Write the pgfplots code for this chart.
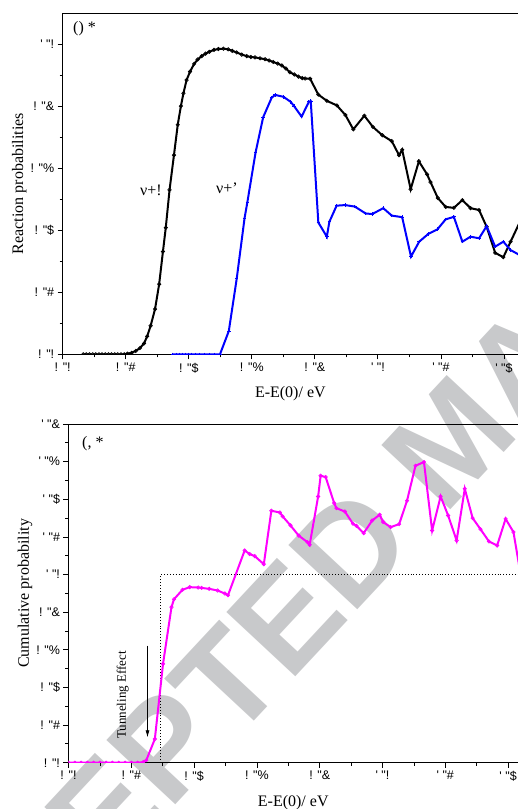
\documentclass[border=0pt]{standalone}
\usepackage{fontspec}
\setmainfont{Liberation Serif}
\newfontfamily\tickfont{Liberation Sans}
\usepackage{pgfplots}
\pgfplotsset{compat=1.18}
\usetikzlibrary{arrows.meta}
\definecolor{wm}{RGB}{200,201,203}
\definecolor{myblue}{RGB}{0,0,255}
\definecolor{mymag}{RGB}{255,0,255}
\pgfplotsset{
  mystyle/.style={
    scale only axis, anchor=south west,
    axis lines*=left, tick align=outside,
    axis line style={line width=0.8pt},
    major tick length=5pt, minor tick length=3pt,
    every tick/.style={black, line width=0.8pt},
    minor x tick num=1, minor y tick num=1,
    xtick={0,0.2,0.4,0.6,0.8,1.0,1.2,1.4},
    xticklabels={! "!, ! "\#, ! "\$, ! "\%, ! "\&, ' "!, ' "\#, ' "\$},
    tick label style={font=\tickfont\fontsize{12.5}{13}\selectfont},
    label style={font=\fontsize{16}{18}\selectfont},
    xlabel style={yshift=-7pt},
    ylabel style={yshift=-3pt},
    clip marker paths=true,
  }
}
\begin{document}
\begin{tikzpicture}
\path[use as bounding box] (0,0) rectangle (518pt,-809pt);
\node[rotate=47, text=wm, font=\tickfont\bfseries\fontsize{137}{137}\selectfont, inner sep=0pt] at (452pt,-440pt) {ACCEPTED MANUSCRIPT};

\begin{axis}[mystyle,
  at={(62.7pt,-354.3pt)}, width=455.3pt, height=341.3pt,
  xmin=0, xmax=1.4445, ymin=0, ymax=1.1,
  ytick={0,0.2,0.4,0.6,0.8,1.0},
  yticklabels={! "!, ! "\#, ! "\$, ! "\%, ! "\&, ' "!},
  xlabel={E-E(0)/ eV}, ylabel={Reaction probabilities},
]
\draw[line width=0.8pt] (rel axis cs:0,1) -- (rel axis cs:1,1);
\addplot[black, line width=2pt, mark=o, mark size=1.7pt, mark options={solid, fill=white, line width=0.7pt}] coordinates {
(0.065,0) (0.075,0) (0.085,0) (0.095,0) (0.105,0) (0.115,0) (0.125,0) (0.135,0) (0.145,0) (0.155,0) (0.165,0) (0.175,0) (0.185,0) (0.195,0) (0.205,0.002)
(0.219,0.005) (0.232,0.011) (0.245,0.020) (0.258,0.035) (0.268,0.058) (0.279,0.092) (0.293,0.146) (0.306,0.226) (0.318,0.331) (0.327,0.408) (0.339,0.530) (0.353,0.642) (0.365,0.740) (0.375,0.800) (0.383,0.841) (0.393,0.884) (0.404,0.911) (0.417,0.936) (0.428,0.950) (0.441,0.961) (0.453,0.969) (0.465,0.975) (0.480,0.981) (0.494,0.984) (0.510,0.985) (0.525,0.983) (0.538,0.978) (0.552,0.973) (0.568,0.966) (0.584,0.961) (0.597,0.958) (0.610,0.957) (0.626,0.954) (0.642,0.951) (0.655,0.947) (0.668,0.942) (0.682,0.937) (0.695,0.931) (0.708,0.921) (0.721,0.909) (0.735,0.902) (0.748,0.895) (0.760,0.890) (0.769,0.889) (0.785,0.888) (0.811,0.837) (0.838,0.817) (0.870,0.802) (0.897,0.771) (0.922,0.725) (0.957,0.769) (0.984,0.733) (1.014,0.706) (1.044,0.687) (1.067,0.642) (1.077,0.659) (1.104,0.532) (1.130,0.622) (1.156,0.580) (1.167,0.555) (1.190,0.504) (1.215,0.475) (1.241,0.472) (1.268,0.497) (1.294,0.471) (1.321,0.465) (1.345,0.411) (1.372,0.327) (1.398,0.313) (1.421,0.363) (1.446,0.417) (1.470,0.470)
};
\addplot[myblue, line width=2pt, mark=+, mark size=1.8pt, mark options={solid, line width=0.9pt}] coordinates {
(0.349,0) (0.360,0) (0.370,0) (0.380,0) (0.390,0) (0.400,0) (0.410,0) (0.420,0) (0.435,0) (0.450,0) (0.465,0) (0.480,0) (0.499,0)
(0.527,0.075) (0.552,0.243) (0.577,0.439) (0.586,0.491) (0.612,0.651) (0.636,0.764) (0.663,0.827) (0.674,0.836) (0.700,0.830) (0.723,0.814) (0.734,0.800) (0.758,0.766) (0.781,0.814) (0.787,0.816) (0.811,0.425) (0.838,0.379) (0.846,0.427) (0.869,0.479) (0.896,0.481) (0.927,0.476) (0.961,0.454) (0.982,0.452) (1.017,0.471) (1.044,0.447) (1.077,0.442) (1.105,0.315) (1.131,0.363) (1.160,0.388) (1.189,0.403) (1.215,0.435) (1.241,0.443) (1.268,0.363) (1.294,0.379) (1.321,0.374) (1.345,0.413) (1.372,0.347) (1.398,0.363) (1.421,0.336) (1.446,0.322)
};
\node[font=\fontsize{16}{17}\selectfont] at (axis cs:0.280,0.529) {ν+!};
\node[font=\fontsize{16}{17}\selectfont] at (axis cs:0.521,0.536) {ν+'};
\node[anchor=west, font=\fontsize{16}{17}\selectfont, inner sep=0pt] at (rel axis cs:0.0226,0.955) {() *};
\end{axis}

\begin{axis}[mystyle,
  at={(68.5pt,-762.7pt)}, width=449.5pt, height=338.7pt,
  xmin=0, xmax=1.4315, ymin=0, ymax=1.8,
  ytick={0,0.2,0.4,0.6,0.8,1.0,1.2,1.4,1.6,1.8},
  yticklabels={! "!, ! "\#, ! "\$, ! "\%, ! "\&, ' "!, ' "\#, ' "\$, ' "\%, ' "\&},
  xlabel={E-E(0)/ eV}, ylabel={Cumulative probability},
]
\draw[line width=0.8pt] (rel axis cs:0,1) -- (rel axis cs:1,1);
\addplot[black, dotted, line width=0.9pt] coordinates {(0.294,0) (0.294,1.0) (1.5,1.0)};
\addplot[mymag, line width=2pt, mark=o, mark size=1.7pt, mark options={solid, fill=white, line width=0.7pt}] coordinates {
(0,0) (0.02,0) (0.04,0) (0.06,0) (0.08,0) (0.10,0) (0.12,0) (0.14,0) (0.16,0) (0.18,0) (0.20,0) (0.22,0) (0.238,0.003)
(0.248,0.014) (0.275,0.126) (0.301,0.525) (0.328,0.827) (0.336,0.869) (0.363,0.919) (0.386,0.933) (0.413,0.931) (0.424,0.929) (0.448,0.924) (0.475,0.915) (0.498,0.899) (0.508,0.890) (0.561,1.128) (0.577,1.109) (0.593,1.098) (0.622,1.055) (0.646,1.339) (0.673,1.330) (0.682,1.309) (0.707,1.261) (0.733,1.207) (0.761,1.172) (0.768,1.158) (0.795,1.415) (0.803,1.525) (0.819,1.518) (0.846,1.380) (0.853,1.353) (0.880,1.335) (0.906,1.270) (0.917,1.259) (0.940,1.220) (0.967,1.287) (0.991,1.318) (1.002,1.279) (1.026,1.252) (1.053,1.268) (1.078,1.392) (1.105,1.578) (1.132,1.598) (1.158,1.234) (1.185,1.415) (1.209,1.314) (1.236,1.181) (1.262,1.456) (1.287,1.300) (1.312,1.241) (1.339,1.176) (1.365,1.154) (1.392,1.296) (1.417,1.226) (1.445,0.95)
};
\draw[line width=0.8pt, -{Latex[length=7pt,width=4pt]}] (axis cs:0.2516,0.622) -- (axis cs:0.2516,0.135);
\node[rotate=90, font=\fontsize{13}{14}\selectfont] at (axis cs:0.173,0.36) {Tunneling Effect};
\node[anchor=west, font=\fontsize{16}{17}\selectfont, inner sep=0pt] at (rel axis cs:0.030,0.941) {(, *};
\end{axis}
\end{tikzpicture}
\end{document}
